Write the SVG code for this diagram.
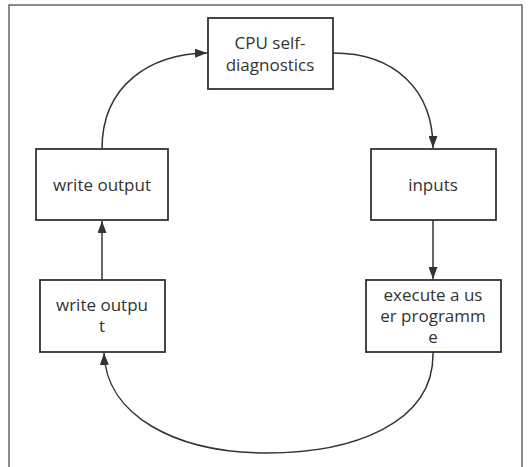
<svg xmlns="http://www.w3.org/2000/svg" width="532" height="467" viewBox="0 0 532 467">
<style>
.node rect{fill:#fff;stroke:#333;stroke-width:1.8}
.node text{font-family:"Open Sans","Noto Sans","Liberation Sans",sans-serif;font-size:17px;fill:#333;text-anchor:middle}
.edge{fill:none;stroke:#333;stroke-width:1.5}
</style>
<defs>
<marker id="arr" viewBox="0 0 12 9" refX="12" refY="4.5" markerWidth="12" markerHeight="9" markerUnits="userSpaceOnUse" orient="auto">
<path d="M0,0 L12,4.5 L0,9 Z" fill="#333"/>
</marker>
</defs>
<rect x="0" y="0" width="532" height="467" fill="#fff"/>
<rect id="frame" x="9" y="5" width="513" height="470" fill="none" stroke="#666" stroke-width="1.5"/>
<g id="connectors">
<path class="edge" d="M102,149 C102,85 150,54 207,53" marker-end="url(#arr)"/>
<path class="edge" d="M333,53 C395,53 433,90 433,148" marker-end="url(#arr)"/>
<path class="edge" d="M433,220 L433,279" marker-end="url(#arr)"/>
<path class="edge" d="M102,280 L102,221" marker-end="url(#arr)"/>
<path class="edge" d="M433,352 C435,425 350,453 267,453 C175,453 106,415 104,353" marker-end="url(#arr)"/>
</g>
<g id="cpu" class="node">
<rect x="208" y="18" width="125" height="71"/>
<text x="270" y="49">CPU self-</text>
<text x="270" y="71">diagnostics</text>
</g>
<g id="write-output-1" class="node">
<rect x="36" y="149" width="132" height="71"/>
<text x="102" y="191">write output</text>
</g>
<g id="inputs" class="node">
<rect x="371" y="149" width="125" height="71"/>
<text x="433" y="191">inputs</text>
</g>
<g id="write-output-2" class="node">
<rect x="40" y="280" width="125" height="72"/>
<text x="102" y="311">write outpu</text>
<text x="102" y="332">t</text>
</g>
<g id="execute" class="node">
<rect x="366" y="280" width="135" height="72"/>
<text x="433" y="301">execute a us</text>
<text x="433" y="322">er programm</text>
<text x="433" y="343">e</text>
</g>
</svg>
